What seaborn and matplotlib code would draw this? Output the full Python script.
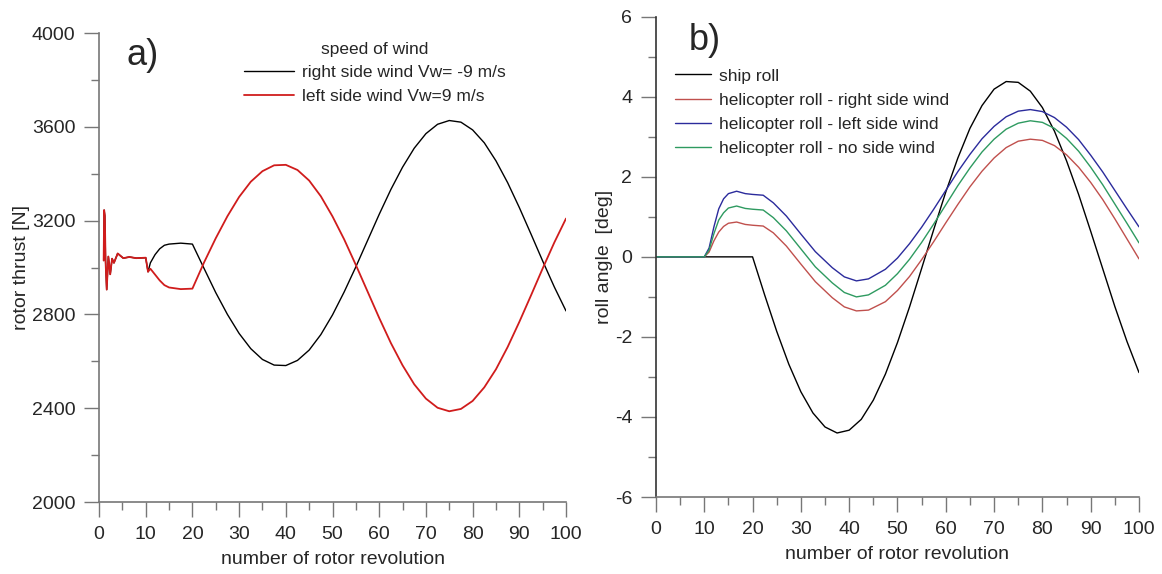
import matplotlib
matplotlib.use("Agg")
import matplotlib.pyplot as plt
import matplotlib.ticker as ticker
import pandas as pd
import seaborn as sns

# ---- panel a) rotor thrust [N] ----
# start-up transient, common to both wind cases
rev_transient = [1.0, 1.1, 1.25, 1.4, 1.65, 2.0, 2.4, 2.8, 3.2, 4.0, 5.2, 6.5, 8.0, 10.0, 10.5]
thrust_transient = [3030, 3245, 3220, 3030, 2906, 3047, 2971, 3038, 3020, 3060, 3040, 3045, 3040, 3042, 2982]

rev_branch = [11, 12, 13, 14, 15, 17.5, 20, 22.5, 25, 27.5, 30, 32.5, 35, 37.5, 40,
              42.5, 45, 47.5, 50, 52.5, 55, 57.5, 60, 62.5, 65, 67.5, 70, 72.5, 75,
              77.5, 80, 82.5, 85, 87.5, 90, 92.5, 95, 97.5, 100]
thrust_right_wind = [3020, 3055, 3080, 3095, 3100, 3104, 3100, 2996, 2893, 2800, 2719, 2654, 2608, 2584, 2582,
                     2604, 2648, 2714, 2798, 2896, 3003, 3115, 3227, 3333, 3428, 3509, 3571, 3611, 3627,
                     3620, 3587, 3532, 3455, 3362, 3256, 3143, 3028, 2917, 2815]
thrust_left_wind = [2995, 2970, 2945, 2925, 2915, 2908, 2910, 3022, 3125, 3219, 3301, 3366, 3411, 3436, 3438,
                    3416, 3371, 3304, 3218, 3120, 3011, 2898, 2785, 2678, 2583, 2502, 2441, 2402, 2387,
                    2397, 2431, 2489, 2566, 2661, 2768, 2881, 2996, 3107, 3209]

# ---- panel b) roll angle [deg] ----
rev_ship = [0, 20, 22.5, 25, 27.5, 30, 32.5, 35, 37.5, 40, 42.5, 45, 47.5, 50, 52.5, 55, 57.5,
            60, 62.5, 65, 67.5, 70, 72.5, 75, 77.5, 80, 82.5, 85, 87.5, 90, 92.5, 95, 97.5, 100]
ship_roll = [0, 0, -0.95, -1.86, -2.68, -3.37, -3.90, -4.25, -4.40, -4.33, -4.06, -3.58, -2.93, -2.14, -1.25, -0.29, 0.68,
             1.62, 2.47, 3.21, 3.78, 4.19, 4.38, 4.36, 4.14, 3.73, 3.14, 2.40, 1.56, 0.64, -0.30, -1.24, -2.11, -2.89]

rev_heli = [0, 10, 11, 12, 13, 14, 15, 16.7, 18.5, 20, 22.2, 24.3, 27, 30, 33, 36.5, 39, 41.5, 44,
            47.5, 50, 52.5, 55, 57.5, 60, 62.5, 65, 67.5, 70, 72.5, 75, 77.5, 80, 82.5, 85, 87.5,
            90, 92.5, 95, 97.5, 100]
heli_right_wind = [0, 0, 0.12, 0.40, 0.62, 0.76, 0.84, 0.87, 0.81, 0.79, 0.77, 0.60, 0.27, -0.18, -0.62, -1.02, -1.25, -1.35, -1.33,
                   -1.12, -0.84, -0.49, -0.07, 0.38, 0.85, 1.31, 1.75, 2.14, 2.47, 2.73, 2.89, 2.94, 2.91, 2.78, 2.55, 2.24,
                   1.86, 1.43, 0.95, 0.45, -0.05]
heli_left_wind = [0, 0, 0.22, 0.75, 1.20, 1.45, 1.58, 1.64, 1.58, 1.56, 1.54, 1.35, 1.02, 0.57, 0.13, -0.27, -0.50, -0.60, -0.55,
                  -0.31, -0.03, 0.33, 0.74, 1.19, 1.66, 2.13, 2.56, 2.95, 3.26, 3.50, 3.64, 3.68, 3.63, 3.48, 3.24, 2.93,
                  2.54, 2.12, 1.66, 1.20, 0.75]
heli_no_wind = [0, 0, 0.17, 0.58, 0.92, 1.10, 1.22, 1.27, 1.21, 1.19, 1.17, 0.98, 0.65, 0.20, -0.25, -0.65, -0.89, -1.00, -0.95,
                -0.71, -0.42, -0.06, 0.36, 0.82, 1.30, 1.78, 2.22, 2.62, 2.94, 3.19, 3.34, 3.40, 3.36, 3.21, 2.96, 2.64,
                2.24, 1.80, 1.32, 0.84, 0.35]

sns.set_style("ticks")
plt.rcParams["font.family"] = ["Liberation Sans", "DejaVu Sans"]
plt.rcParams["axes.unicode_minus"] = False
FS = 14
LFS = 12.5

fig = plt.figure(figsize=(11.62, 5.74), dpi=100)
ax1 = fig.add_axes([0.0852, 0.1254, 0.4019, 0.817])
ax2 = fig.add_axes([0.5645, 0.1341, 0.4157, 0.8368])

df_a = pd.DataFrame({
    "rev": rev_transient + rev_branch,
    "right": thrust_transient + thrust_right_wind,
    "left": thrust_transient + thrust_left_wind,
})
sns.lineplot(data=df_a, x="rev", y="right", ax=ax1, color="black", lw=1.0,
             label="right side wind Vw= -9 m/s", sort=False)
sns.lineplot(data=df_a, x="rev", y="left", ax=ax1, color="#d01c1c", lw=1.3,
             label="left side wind Vw=9 m/s", sort=False)

df_b = pd.DataFrame({"rev": rev_heli, "right": heli_right_wind,
                     "left": heli_left_wind, "none": heli_no_wind})
sns.lineplot(x=rev_ship, y=ship_roll, ax=ax2, color="black", lw=1.0, label="ship roll")
sns.lineplot(data=df_b, x="rev", y="right", ax=ax2, color="#c0504d", lw=1.0,
             label="helicopter roll - right side wind")
sns.lineplot(data=df_b, x="rev", y="left", ax=ax2, color="#2b2b9c", lw=1.0,
             label="helicopter roll - left side wind")
sns.lineplot(data=df_b, x="rev", y="none", ax=ax2, color="#2e9a60", lw=1.0,
             label="helicopter roll - no side wind")

for ax in (ax1, ax2):
    sns.despine(ax=ax)
    ax.set_xlim(0, 100)
    ax.xaxis.set_major_locator(ticker.MultipleLocator(10))
    ax.xaxis.set_minor_locator(ticker.MultipleLocator(5))
    ax.tick_params(which="major", length=11, width=1, color="#777777", labelsize=FS, pad=6)
    ax.tick_params(which="minor", length=6, width=1, color="#777777")
    for s in ("left", "bottom"):
        ax.spines[s].set_color("#777777")
        ax.spines[s].set_linewidth(1.2)
    ax.set_xlabel("number of rotor revolution", fontsize=FS, labelpad=6)

ax1.set_ylim(2000, 4000)
ax1.yaxis.set_major_locator(ticker.MultipleLocator(400))
ax1.yaxis.set_minor_locator(ticker.MultipleLocator(200))
ax1.set_ylabel("rotor thrust [N]", fontsize=FS, labelpad=1)
ax1.text(0.058, 0.953, "a)", transform=ax1.transAxes, fontsize=26, va="center")
ax1.legend(title="speed of wind", frameon=False, fontsize=LFS, title_fontsize=LFS,
           loc="upper left", bbox_to_anchor=(0.277, 1.015), handlelength=2.9,
           handletextpad=0.45, labelspacing=0.5)

ax2.set_ylim(-6, 6)
ax2.yaxis.set_major_locator(ticker.MultipleLocator(2))
ax2.yaxis.set_minor_locator(ticker.MultipleLocator(1))
ax2.spines["left"].set_color("#333333")
ax2.set_ylabel("roll angle  [deg]", fontsize=FS, labelpad=1)
ax2.text(0.068, 0.95, "b)", transform=ax2.transAxes, fontsize=26, va="center")
ax2.legend(frameon=False, fontsize=LFS, loc="upper left", bbox_to_anchor=(0.008, 0.925),
           handlelength=2.07, handletextpad=0.46, labelspacing=0.52)

fig.savefig("out.png", dpi=100)
